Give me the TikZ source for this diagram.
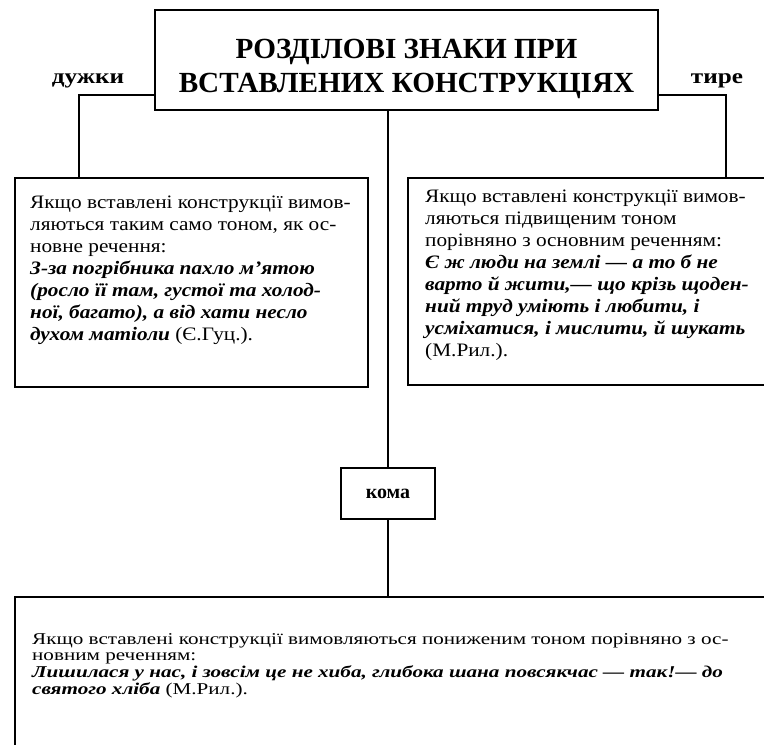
\documentclass[tikz,border=0pt]{standalone}
\usepackage{fontspec}
\setmainfont{Liberation Serif}
\newfontfamily\wideserif[FakeStretch=1.12]{Liberation Serif}
\newfontfamily\labelserif[FakeStretch=1.2]{Liberation Serif}
\newfontfamily\widerserif[FakeStretch=1.28]{Liberation Serif}
\newcommand{\exbi}[1]{\textbf{\textit{#1}}}
\begin{document}
\begin{tikzpicture}[x=1pt,y=-1pt,
  box/.style={draw, line width=2.6pt, inner sep=0pt},
  link/.style={line width=2.1pt},
  body/.style={inner sep=0pt, anchor=north west, align=left, font=\wideserif\fontsize{19}{22}\selectfont},
  lbl/.style={inner sep=0pt, anchor=base, font=\labelserif\bfseries\fontsize{21}{24}\selectfont}
]
\useasboundingbox (0,0) rectangle (764,745);
\fill[white] (0,0) rectangle (764,745);
\clip (0,0) rectangle (764,745);

% boxes
\node[box, minimum width=503pt, minimum height=100pt] (title) at (406.5,60) {};
\node[inner sep=0pt, anchor=north, align=center, font=\bfseries\fontsize{29.2}{34}\selectfont] (titletext) at (406.5,39)
  {РОЗДІЛОВІ ЗНАКИ ПРИ\\ВСТАВЛЕНИХ КОНСТРУКЦІЯХ};
\node[box, minimum width=353pt, minimum height=209pt] (leftbox) at (191.5,282.5) {};
\node[box, minimum width=382pt, minimum height=207pt] (rightbox) at (599,281.5) {};
\node[box, minimum width=94pt, minimum height=51pt, font=\bfseries\fontsize{20}{24}\selectfont] (koma) at (388,493.5) {кома};
\node[box, minimum width=775pt, minimum height=173pt] (bottombox) at (402.5,683.5) {};

% side labels
\node[lbl] (duzhky) at (88,83) {дужки};
\node[lbl] (tyre) at (717,83) {тире};

% connectors
\coordinate (lt) at (79,95);
\coordinate (rt) at (726,95);
\draw[link] (title.west |- lt) -| (leftbox.north -| lt);
\draw[link] (title.east |- rt) -| (rightbox.north -| rt);
\draw[link] (title.south -| koma.north) -- (koma.north);
\draw[link] (koma.south) -- (bottombox.north -| koma.south);

% texts
\node[body] (lefttext) at (30,195.5) {Якщо вставлені конструкції вимов-\\
ляються таким само тоном, як ос-\\
новне речення:\\
\exbi{З-за погрібника пахло м’ятою}\\
\exbi{(росло її там, густої та холод-}\\
\exbi{ної, багато), а від хати несло}\\
\exbi{духом матіоли} (Є.Гуц.).};

\node[body] (righttext) at (425,190) {Якщо вставлені конструкції вимов-\\
ляються підвищеним тоном\\
порівняно з основним реченням:\\
\exbi{Є ж люди на землі — а то б не}\\
\exbi{варто й жити,— що крізь щоден-}\\
\exbi{ний труд уміють і любити, і}\\
\exbi{усміхатися, і мислити, й шукать}\\
(М.Рил.).};

\node[body, font=\widerserif\fontsize{16.5}{16.8}\selectfont] (bottomtext) at (32,633) {Якщо вставлені конструкції вимовляються пониженим тоном порівняно з ос-\\
новним реченням:\\
\exbi{Лишилася у нас, і зовсім це не хиба, глибока шана повсякчас — так!— до}\\
\exbi{святого хліба} (М.Рил.).};
\end{tikzpicture}
\end{document}
